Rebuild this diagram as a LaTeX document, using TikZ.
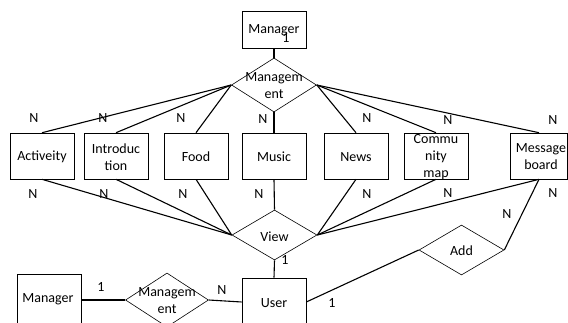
\documentclass[tikz,border=0pt]{standalone}
\usepackage{fontspec}
\setmainfont{Carlito}
\usetikzlibrary{shapes.geometric}
\begin{document}
\begin{tikzpicture}[x=1pt,y=-1pt,
  every node/.style={font=\fontsize{14}{17}\selectfont},
  entbox/.style={draw,line width=0.6pt,minimum width=64pt,minimum height=46pt,inner sep=0pt},
  relbox/.style={draw,diamond,line width=0.6pt,inner sep=0pt,minimum width=85pt,minimum height=#1},
  conn/.style={line width=1.1pt},
  card/.style={inner sep=0pt}]
\useasboundingbox (0,0) rectangle (568,322);
\clip (0,0) rectangle (568,322);
% top manager and management
\node[entbox,minimum height=37pt] (man) at (274,29.5) {};
\node at (274,30) {Manager};
\node[relbox=54pt] (mgmt) at (274,85) {};
\node[align=center] at (274,86) {Managem\\ent};
% entities
\node[entbox] (act) at (42,156) {};
\node at (42,157) {Activeity};
\node[entbox] (intro) at (116,156) {};
\node[align=center] at (116,157) {Introduc\\tion};
\node[entbox] (food) at (196,156) {};
\node at (196,157) {Food};
\node[entbox] (music) at (274,156) {};
\node at (274,157) {Music};
\node[entbox] (news) at (356,156) {};
\node at (356,157) {News};
\node[entbox] (comm) at (436,156) {};
\node[align=center] at (436,157) {Commu\\nity\\map};
\node[entbox,minimum width=57.5pt] (msg) at (539,156) {};
\node[align=center] at (541,157) {Message\\board};
% view, add
\node[relbox=50pt] (view) at (274.5,235) {};
\node at (274.5,237) {View};
\node[relbox=50pt] (add) at (461.5,250) {};
\node at (461.5,251) {Add};
% bottom row
\node[entbox,minimum height=52pt] (man2) at (49,300) {};
\node at (48,299) {Manager};
\node[relbox=54pt,minimum width=83pt] (mgmt2) at (167,300) {};
\node[align=center] at (167,301) {Managem\\ent};
\node[entbox,minimum height=48pt] (user) at (274,302) {};
\node at (274,303) {User};
% connectors
\draw[conn] (man) -- (mgmt.north);
\foreach \e in {act,intro,food} \draw[conn] (mgmt.west) -- (\e.north);
\draw[conn] (mgmt.south) -- (music.north);
\foreach \e in {news,comm,msg} \draw[conn] (mgmt.east) -- (\e.north);
\foreach \e in {act,intro,food} \draw[conn] (\e.south) -- (view.west);
\draw[conn] (music.south) -- (view.north);
\foreach \e in {news,comm,msg} \draw[conn] (\e.south) -- (view.east);
\draw[conn] (view.south) -- (user.north);
\draw[conn] (msg.south) -- (add.east);
\draw[conn] (add.west) -- (user.east);
\draw[conn] (man2.east) -- (mgmt2.west);
\draw[conn] (mgmt2.east) -- (user.west);
% cardinalities
\node[card] at (286,38) {1};
\foreach \x/\y in {34/118,103/118,181/118,263/119,367/118,448/120,553/120,
                   33/194,104/194,183/194,259/194,367/194,448/193,553/193}
  \node[card] at (\x,\y) {N};
\node[card] at (507,214) {N};
\node[card] at (285,260) {1};
\node[card] at (101,287) {1};
\node[card] at (222,290) {N};
\node[card] at (332,303) {1};
\end{tikzpicture}
\end{document}
